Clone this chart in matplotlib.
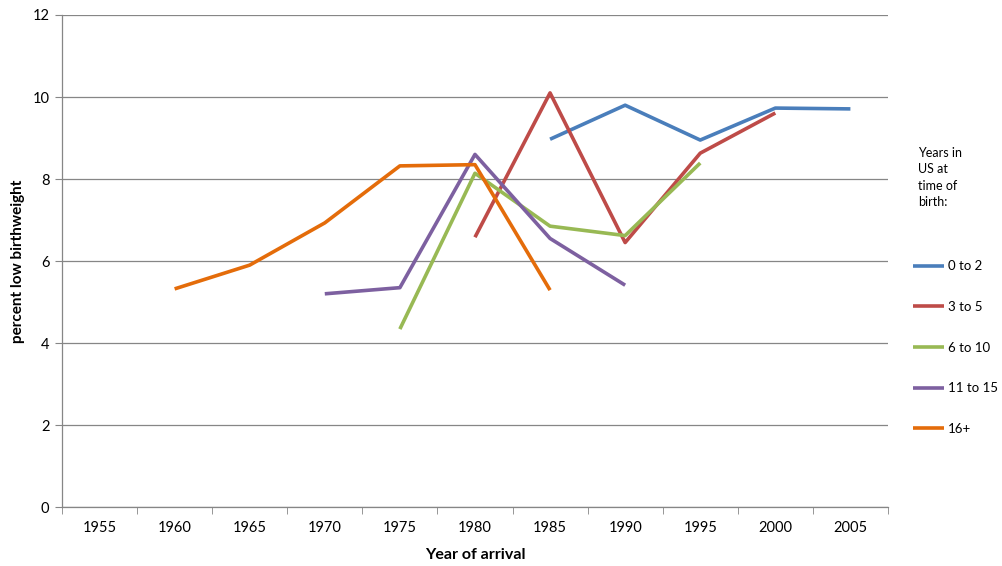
import numpy as np
import matplotlib.pyplot as plt

years = [1955, 1960, 1965, 1970, 1975, 1980, 1985, 1990, 1995, 2000, 2005]

# values per series (None where no data)
s_0_2 = [None, None, None, None, None, None, 8.97, 9.80, 8.95, 9.73, 9.71]
s_3_5 = [None, None, None, None, None, 6.58, 10.10, 6.45, 8.63, 9.61, None]
s_6_10 = [None, None, None, None, 4.34, 8.14, 6.85, 6.62, 8.39, None, None]
s_11_15 = [None, None, None, 5.20, 5.35, 8.60, 6.55, 5.41, None, None, None]
s_16 = [None, 5.32, 5.90, 6.93, 8.32, 8.35, 5.29, None, None, None, None]

labels = ['0 to 2', '3 to 5', '6 to 10', '11 to 15', '16+']
colors = ['#4A7EBB', '#BE4B48', '#98B954', '#7D60A0', '#E46C0A']


def to_arr(vals):
    return np.array([np.nan if v is None else v for v in vals], dtype=float)


def main():
    plt.rcParams['font.family'] = ['Lato', 'DejaVu Sans']
    fig = plt.figure(figsize=(10.03, 5.66), dpi=100)
    ax = fig.add_axes([0.0618, 0.1042, 0.8235, 0.8693])

    x = np.arange(len(years))
    series = [s_0_2, s_3_5, s_6_10, s_11_15, s_16]
    handles = []
    for vals, lab, col in zip(series, labels, colors):
        ln, = ax.plot(x, to_arr(vals), color=col, linewidth=2.6,
                      solid_capstyle='butt', label=lab)
        handles.append(ln)

    ax.set_xlim(-0.5, len(years) - 0.5)
    ax.set_ylim(0, 12)
    ax.set_yticks(range(0, 13, 2))
    ax.set_xticks(x)
    ax.set_xticklabels([str(y) for y in years])
    ax.set_xticks(np.arange(-0.5, len(years), 1), minor=True)
    ax.tick_params(axis='x', which='major', length=0, pad=10, labelsize=10.5)
    ax.tick_params(axis='x', which='minor', length=5, color='#868686')
    ax.tick_params(axis='y', length=5, color='#868686', labelsize=10.5, pad=4)

    ax.grid(axis='y', color='#868686', linewidth=0.9)
    ax.set_axisbelow(True)
    for side in ['top', 'right']:
        ax.spines[side].set_visible(False)
    for side in ['left', 'bottom']:
        ax.spines[side].set_color('#868686')
        ax.spines[side].set_linewidth(0.9)

    ax.set_xlabel('Year of arrival', fontsize=11.5, fontweight='bold')
    ax.xaxis.label.set_va('center')
    ax.xaxis.set_label_coords(0.5, -0.098)
    ax.set_ylabel('percent low birthweight', fontsize=11, fontweight='bold')
    ax.yaxis.label.set_va('center')
    ax.yaxis.set_label_coords(-0.053, 0.5)

    fig.text(0.915, 0.686, 'Years in\nUS at\ntime of\nbirth:', fontsize=9,
             va='center', ha='left', linespacing=1.45)
    fig.legend(handles=handles, labels=labels, loc='upper left',
               bbox_to_anchor=(0.910, 0.540), frameon=False, fontsize=9.5,
               borderpad=0, borderaxespad=0, handlelength=2.4,
               handletextpad=0.25, labelspacing=2.17)

    fig.savefig('out.png', dpi=100)


if __name__ == '__main__':
    main()
